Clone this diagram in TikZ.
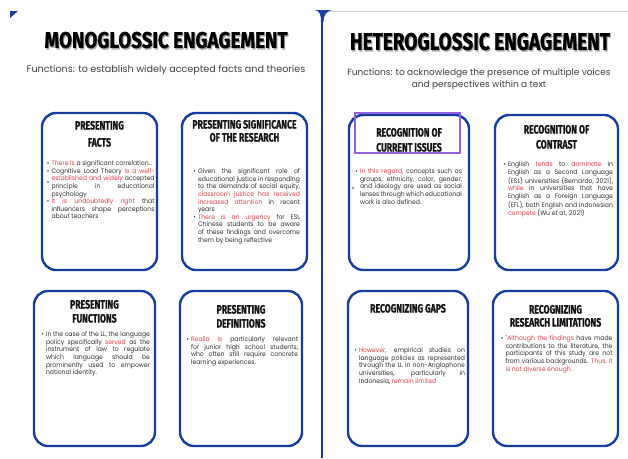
\documentclass[tikz,border=0pt]{standalone}
\usepackage{fontspec}
\setmainfont{Poppins}
\newfontfamily\headfont{Fira Sans}[BoldFeatures={FakeBold=1.2}]
\newfontfamily\bodyfont{Poppins}[FakeStretch=0.94]
\usepackage{graphicx}
\usetikzlibrary{positioning}

\definecolor{cardblue}{RGB}{22,62,160}
\definecolor{hired}{RGB}{226,64,76}
\definecolor{boxpurple}{RGB}{146,98,226}
\definecolor{txtgray}{RGB}{50,50,55}

\newcommand{\rd}[1]{\textcolor{hired}{#1}}
\newenvironment{blist}{\begin{list}{\textbullet}{%
  \setlength{\leftmargin}{6pt}\setlength{\labelwidth}{4pt}%
  \setlength{\labelsep}{2pt}\setlength{\itemsep}{0pt}%
  \setlength{\topsep}{0pt}\setlength{\parsep}{0pt}%
  \setlength{\partopsep}{0pt}\setlength{\itemindent}{0pt}}}{\end{list}}
\newcommand{\hl}[1]{\scalebox{0.72}[1]{#1}}
\hyphenpenalty=10000
\exhyphenpenalty=0
\emergencystretch=20pt

\begin{document}
\begin{tikzpicture}[
x = 1pt, y = -1pt, % pixel grid, y downwards
node distance = 10pt,
auto
]

\tikzstyle{card}=[
draw = cardblue,
line width = 2.4pt,
rounded corners = 14pt,
fill = white
]
\tikzstyle{hdr}=[
inner sep = 0pt,
align = center,
text = black!92,
font = \headfont\bfseries\fontsize{12}{14}\selectfont
]
\tikzstyle{txt}=[
inner sep = 0pt,
align = justify,
text = txtgray,
font = \bodyfont\fontsize{6.5}{7.6}\selectfont
]
\tikzstyle{sub}=[
inner sep = 0pt,
align = center,
text = black!75
]

\useasboundingbox (0,0) rectangle (628,458);
\fill[white] (0,0) rectangle (628,458);

% panel corners
\fill[cardblue] (10,11) -- (18,11) -- (10,18) -- cycle;
\draw[black!15, line width=0.6pt] (322,11) -- (628,11);
\fill[cardblue] (315,10) .. controls (320,11) and (321,15) .. (321,22)
  -- (323.5,22) .. controls (323.5,15) and (326,11) .. (333,10) -- cycle;
\draw[cardblue, line width=2pt] (322,11) -- (322,458);

% titles
\node[text=black!35, inner sep=0pt] (monoS) at (167,41.5)
  {\resizebox{243pt}{16pt}{\headfont\bfseries MONOGLOSSIC ENGAGEMENT}};
\node[inner sep=0pt] (mono) at (166,40)
  {\resizebox{243pt}{16pt}{\headfont\bfseries MONOGLOSSIC ENGAGEMENT}};
\node[sub, font=\fontsize{9.6}{12.5}\selectfont] (monoF) at (166,70)
  {Functions: to establish widely accepted facts and theories};

\node[text=black!35, inner sep=0pt] (hetS) at (481,43)
  {\resizebox{260pt}{17pt}{\headfont\bfseries HETEROGLOSSIC ENGAGEMENT}};
\node[inner sep=0pt] (het) at (480,41.5)
  {\resizebox{260pt}{17pt}{\headfont\bfseries HETEROGLOSSIC ENGAGEMENT}};
\node[sub, font=\fontsize{9}{12.5}\selectfont] (hetF) at (479,79)
  {Functions: to acknowledge the presence of multiple voices\\and perspectives within a text};

% cards
\node[card, minimum width=115, minimum height=157] (c1) at (99.5,191.5) {};
\node[card, minimum width=125, minimum height=157] (c2) at (244.5,191.5) {};
\node[card, minimum width=120, minimum height=155] (c3) at (409,192.5) {};
\node[card, minimum width=123, minimum height=155] (c4) at (556.5,192.5) {};
\node[card, minimum width=121, minimum height=155] (c5) at (94.5,368.5) {};
\node[card, minimum width=122, minimum height=155] (c6) at (241,368.5) {};
\node[card, minimum width=120, minimum height=155] (c7) at (408,368.5) {};
\node[card, minimum width=125, minimum height=155] (c8) at (555.5,368.5) {};

% purple frame
\node[draw=boxpurple, line width=1.6pt, minimum width=105, minimum height=40] (frame) at (407.5,133) {};

% headings
\node[hdr, below=9pt of c1.north] (h1) {\hl{PRESENTING}\\[3pt]\hl{FACTS}};
\node[hdr, below=8pt of c2.north] (h2) {\hl{PRESENTING SIGNIFICANCE}\\[-1pt]\hl{OF THE RESEARCH}};
\node[hdr, below=14pt of c3.north] (h3) {\hl{RECOGNITION OF}\\[1pt]\hl{CURRENT ISSUES}};
\node[hdr, below=11pt of c4.north] (h4) {\hl{RECOGNITION OF}\\[1pt]\hl{CONTRAST}};
\node[hdr, below=10pt of c5.north] (h5) {\hl{PRESENTING}\\\hl{FUNCTIONS}};
\node[hdr, below=15pt of c6.north] (h6) {\hl{PRESENTING}\\\hl{DEFINITIONS}};
\node[hdr, below=14pt of c7.north] (h7) {\hl{RECOGNIZING GAPS}};
\node[hdr, below=15pt of c8.north] (h8) {\hl{RECOGNIZING}\\[-1pt]\hl{RESEARCH LIMITATIONS}};

% bullet texts
\node[txt, text width=109, below=46pt of c1.north, xshift=0.5pt] (b1) {\begin{blist}
\item \rd{There is} a significant correlation...
\item Cognitive Load Theory \rd{is a well-\linebreak established and widely} accepted principle in educational psychology
\item \rd{It is undoubtedly right} that influencers shape perceptions about teachers
\end{blist}};
\node[txt, text width=108, below=54pt of c2.north, xshift=1.5pt] (b2) {\begin{blist}
\item Given the significant role of educational justice in responding to the demands of social equity, \rd{classroom justice has received increased attention} in recent years
\item \rd{There is an urgency} for ESL Chinese students to be aware of these findings and overcome them by being reflective
\end{blist}};
\node[txt, text width=108, below=52pt of c3.north, xshift=-1pt] (b3) {\begin{blist}
\item \rd{In this regard,} concepts such as groups, ethnicity, color, gender, and ideology are used as social lenses through which educational work is also defined.
\end{blist}};
\node[txt, text width=111, below=45pt of c4.north, xshift=1pt] (b4) {\begin{blist}
\item English \rd{tends} to \rd{dominate} in English as a Second Language (ESL) universities (Bernardo, 2021), \rd{while} in universities that have English as a Foreign Language (EFL), both English and Indonesian \rd{compete} (Wu et al., 2021)
\end{blist}};
\node[txt, text width=110, below=39pt of c5.north, xshift=0.5pt] (b5) {\begin{blist}
\item In the case of the LL, the language policy specifically \rd{served} as the instrument of law to regulate which language should be prominently used to empower national identity.
\end{blist}};
\node[txt, text width=113, below=44pt of c6.north, xshift=0.5pt] (b6) {\begin{blist}
\item \rd{Realia is} particularly relevant for junior high school students, who often still require concrete\linebreak\ learning experiences.
\end{blist}};
\node[txt, text width=112, below=55pt of c7.north, xshift=1pt] (b7) {\begin{blist}
\item \rd{However,} empirical studies on language policies as represented through the LL in non-Anglophone universities, particularly in Indonesia, \rd{remain limited}
\end{blist}};
\node[txt, text width=113, below=43pt of c8.north, xshift=0.5pt] (b8) {\begin{blist}
\item \rd{"Although the findings} have made contributions to the literature, the participants of this study are not from various backgrounds. \rd{Thus, it is not diverse enough.}
\end{blist}};

% stray dots
\node[circle, fill=txtgray, inner sep=0pt, minimum size=1.6pt] (d1) at (48,182) {};
\node[circle, fill=txtgray, inner sep=0pt, minimum size=1.6pt] (d3) at (353,188) {};

\end{tikzpicture}
\end{document}
